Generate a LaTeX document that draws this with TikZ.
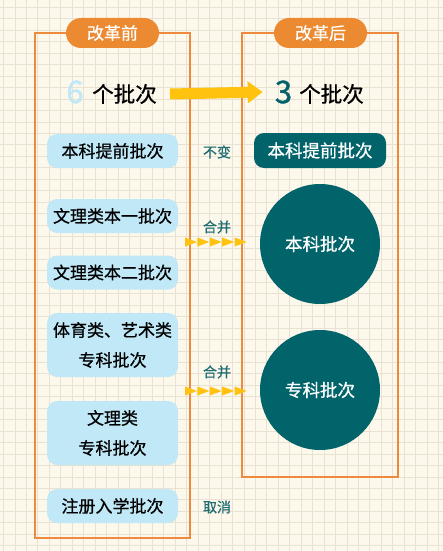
\documentclass[tikz,border=0pt]{standalone}
\usepackage{fontspec}
\setmainfont{Noto Sans CJK SC}[FakeBold=0.7]
\newfontfamily\numfont{Noto Sans CJK SC}[FakeBold=1.2]
\usepackage{tikz}
\usetikzlibrary{arrows.meta,shapes.geometric,positioning}
\definecolor{paper}{HTML}{FDF8EC}
\definecolor{gridc}{HTML}{E9E1D1}
\definecolor{frameo}{HTML}{EE8A3E}
\definecolor{pillo}{HTML}{EB8A30}
\definecolor{skyb}{HTML}{C0E8F7}
\definecolor{tealc}{HTML}{02646B}
\definecolor{tealt}{HTML}{1E6D72}
\definecolor{goldy}{HTML}{FFC20E}

\begin{document}
\begin{tikzpicture}[
x=1pt,y=-1pt,
gridline/.style={gridc,line width=0.9pt},
frame/.style={draw=frameo,line width=1.4pt},
pill/.style={fill=pillo,text=white,rounded corners=15pt,minimum width=93pt,minimum height=30pt,inner sep=0pt,font=\fontsize{17}{17}\selectfont},
oldbox/.style={fill=skyb,rounded corners=10pt,minimum width=131pt,minimum height=34pt,inner sep=0pt,align=center,font=\fontsize{17}{30}\selectfont},
newbox/.style={fill=tealc,text=white,rounded corners=10pt,minimum width=132pt,minimum height=35pt,inner sep=0pt,font=\fontsize{17.5}{17.5}\selectfont},
newcircle/.style={circle,fill=tealc,text=white,minimum size=120pt,inner sep=0pt,font=\fontsize{17.5}{17.5}\selectfont},
note/.style={text=tealt,inner sep=0pt,font=\fontsize{14}{14}\selectfont},
bignum/.style={inner sep=0pt,font=\numfont\fontsize{31}{31}\selectfont},
count/.style={inner sep=0pt,font=\fontsize{21.5}{21.5}\selectfont},
bigarrow/.style={goldy,line width=11pt,-{Triangle[length=15pt,width=21pt]}},
chev/.style={fill=goldy,draw=none}
]
\useasboundingbox (0,0) rectangle (443,551);
% Draw paper and grid
\fill[paper] (0,0) rectangle (443,551);
\foreach \i in {0,...,38}
  \draw[gridline] ({3.5+11.45*\i},0) -- ({3.5+11.45*\i},551);
\foreach \j in {0,...,47}
  \draw[gridline] (0,{7.5+11.45*\j}) -- (443,{7.5+11.45*\j});

% Draw frames
\draw[frame] (35,33) rectangle (190,538);
\draw[frame] (242,33) rectangle (398,477);
\node[pill] (before) at (112.5,33) {改革前};
\node[pill] (after) at (320.5,33) {改革后};

% Counts
\node[bignum,text=skyb] (six) at (75,92) {6};
\node[count] (sixcnt) at (124.5,94) {个批次};
\node[bignum,text=tealc] (three) at (283.5,92) {3};
\node[count] (threecnt) at (331.5,94) {个批次};
\draw[bigarrow] ([xshift=13pt]sixcnt.east|-sixcnt.center) -- ([xshift=-12pt]three.west);

% Old batches
\node[oldbox] (tiqian) at (112.5,151) {本科提前批次};
\node[oldbox] (benyi) at (112.5,216) {文理类本一批次};
\node[oldbox] (bener) at (112.5,272.5) {文理类本二批次};
\node[oldbox,minimum height=64pt] (tiyi) at (112.5,345) {体育类、艺术类\\专科批次};
\node[oldbox,minimum height=64pt] (wlzk) at (112.5,433) {文理类\\专科批次};
\node[oldbox] (zhuce) at (112.5,506) {注册入学批次};

% New batches
\node[newbox] (newtiqian) at (320,150.5) {本科提前批次};
\node[newcircle] (benke) at (320,244) {本科批次};
\node[newcircle] (zhuanke) at (320,390) {专科批次};

% Notes
\node[note] (bubian) at (217,152) {不变};
\node[note] (hebing1) at (217,227) {合并};
\node[note] (hebing2) at (217,372) {合并};
\node[note] (quxiao) at (217,507) {取消};

% Chevrons
\foreach \y in {242,391}
  \foreach \k in {0,...,4}
    \fill[chev] ({185+12.4*\k},{\y-4.5}) -- ++(12,4.5) -- ++(-12,4.5) -- cycle;
\end{tikzpicture}
\end{document}
